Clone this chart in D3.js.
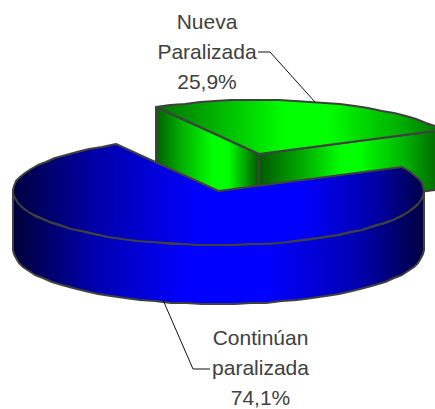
<!DOCTYPE html>
<html>
<head>
<meta charset="utf-8">
<script src="https://cdn.jsdelivr.net/npm/d3@7"></script>
<style>
  html, body { margin: 0; padding: 0; background: #fff; }
  svg { display: block; }
  .lbl { font-family: "Liberation Sans", Arial, sans-serif; font-size: 21px; fill: #404040; text-anchor: middle; }
</style>
</head>
<body>
<div id="chart"></div>
<script>
const svgWidth = 435;
const svgHeight = 409;

// data
const categories = ['Nueva Paralizada', 'Continúan paralizada'];
const values = [25.9, 74.1];
const labelLines = [['Nueva', 'Paralizada', '25,9%'], ['Continúan', 'paralizada', '74,1%']];

const cx = 218.5, cy = 191, rx = 205.5, ry = 54, depth = 59;
const explode = { x: 40.5, y: -37 };

const svg = d3.select('#chart').append('svg')
    .attr('width', svgWidth)
    .attr('height', svgHeight);

const xScale = d3.scaleLinear().domain([-1, 1]).range([cx - rx, cx + rx]);
const yScale = d3.scaleLinear().domain([-1, 1]).range([cy + ry, cy - ry]);

const rad = deg => deg * Math.PI / 180;

const pie = d3.pie().sort(null)
    .startAngle(rad(-30))
    .endAngle(rad(330));
const arcs = pie(values);
const green = arcs[0], blue = arcs[1];

// point on the rim; dx, dy shift it (explode / wall depth)
const rim = (a, dx = 0, dy = 0) => [Math.round(xScale(Math.sin(a)) + dx), Math.round(yScale(Math.cos(a)) + dy)];
const apex = (dx = 0, dy = 0) => [xScale(0) + dx, yScale(0) + dy];

// sample an arc coarsely, the source has a visibly faceted rim
function sampleArc(a0, a1, dx = 0, dy = 0) {
    const n = Math.max(2, Math.round(Math.abs(a1 - a0) / rad(4.5)));
    return d3.range(n + 1).map(i => rim(a0 + (a1 - a0) * i / n, dx, dy));
}

const line = d3.line();
const closed = pts => line(pts) + 'Z';

// gradients
const defs = svg.append('defs');
function gradient(id, x0, x1, stops) {
    defs.append('linearGradient')
        .attr('id', id)
        .attr('gradientUnits', 'userSpaceOnUse')
        .attr('x1', x0).attr('x2', x1).attr('y1', 0).attr('y2', 0)
        .selectAll('stop')
        .data(stops)
        .enter()
        .append('stop')
        .attr('offset', d => d[0])
        .attr('stop-color', d => d[1]);
}

const gx = explode.x, gy = explode.y;
const gLeft = rim(green.startAngle, gx, gy);
const gRight = rim(green.endAngle, gx, gy);
const gApex = apex(gx, gy);

gradient('greenTop', gLeft[0], gRight[0], [[0, '#007000'], [0.2, '#00b000'], [0.45, '#00ff00'], [0.6, '#00ff00'], [0.85, '#00b000'], [1, '#007000']]);
gradient('greenWallL', gLeft[0], gApex[0], [[0, '#006000'], [0.25, '#00b000'], [0.55, '#00ff00'], [0.7, '#00ff00'], [1, '#005800']]);
gradient('greenWallR', gApex[0], gRight[0], [[0, '#005800'], [0.25, '#00b000'], [0.45, '#00ff00'], [0.55, '#00ff00'], [0.8, '#00b000'], [1, '#006000']]);
gradient('blueTop', xScale(-1), xScale(1), [[0, '#000040'], [0.2, '#0000a8'], [0.45, '#0000ff'], [0.7, '#0000ff'], [0.88, '#0000a8'], [1, '#000048']]);
gradient('blueSide', xScale(-1), xScale(1), [[0, '#000038'], [0.2, '#0000b0'], [0.42, '#0000ff'], [0.62, '#0000ff'], [0.84, '#0000b0'], [1, '#000040']]);

const stroke = '#404040';
const parts = svg.append('g')
    .attr('stroke', stroke)
    .attr('stroke-width', 2)
    .attr('stroke-linejoin', 'round');

// exploded slice: the two cut walls first, then its top
parts.append('path')
    .attr('d', closed([gLeft, gApex, [gApex[0], gApex[1] + depth], [gLeft[0], gLeft[1] + depth]]))
    .attr('fill', 'url(#greenWallL)');
parts.append('path')
    .attr('d', closed([gApex, gRight, [gRight[0], gRight[1] + depth], [gApex[0], gApex[1] + depth]]))
    .attr('fill', 'url(#greenWallR)');
parts.append('path')
    .attr('d', closed([gApex].concat(sampleArc(green.startAngle, green.endAngle, gx, gy))))
    .attr('fill', 'url(#greenTop)');

// large slice: front wall and top
const sideTop = sampleArc(rad(90), rad(270));
const sideBottom = sampleArc(rad(270), rad(90), 0, depth);
parts.append('path')
    .attr('d', closed(sideTop.concat(sideBottom)))
    .attr('fill', 'url(#blueSide)');
parts.append('path')
    .attr('d', closed([apex()].concat(sampleArc(blue.startAngle, blue.endAngle))))
    .attr('fill', 'url(#blueTop)');

// leader lines
const leaders = [
    [[258, 52], [270, 52], [315, 102]],
    [[163, 300], [193, 369], [210, 369]]
];
svg.append('g').selectAll('path')
    .data(leaders)
    .enter()
    .append('path')
    .attr('d', d => line(d))
    .attr('fill', 'none')
    .attr('stroke', '#101010')
    .attr('stroke-width', 1);

// labels
const labelPos = [{ x: 207, y: 29 }, { x: 260.5, y: 345 }];
const labels = svg.append('g').selectAll('text')
    .data(labelLines)
    .enter()
    .append('text')
    .attr('class', 'lbl')
    .attr('aria-label', (d, i) => categories[i]);

labels.selectAll('tspan')
    .data((d, i) => d.map(t => ({ t: t, i: i })))
    .enter()
    .append('tspan')
    .attr('x', d => labelPos[d.i].x)
    .attr('y', (d, j) => labelPos[d.i].y + j * 30)
    .text(d => d.t);
</script>
</body>
</html>
